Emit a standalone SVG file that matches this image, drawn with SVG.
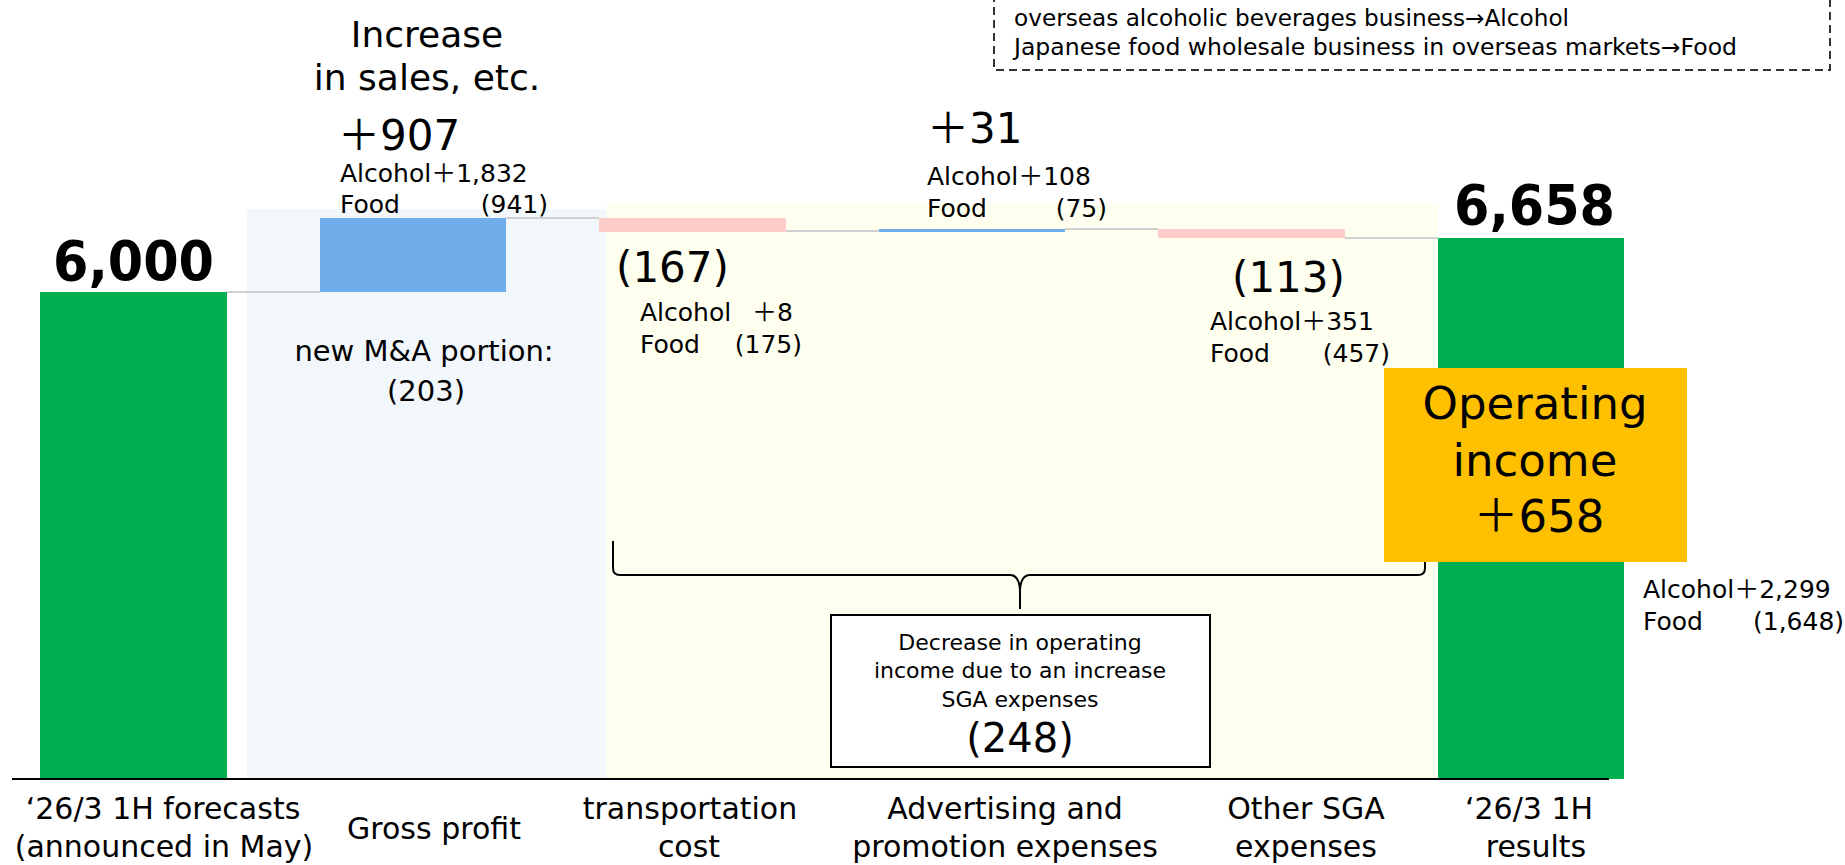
<svg xmlns="http://www.w3.org/2000/svg" width="1845" height="865" viewBox="0 0 1845 865">
<style>
text{font-family:"DejaVu Sans","Noto Sans CJK JP",sans-serif;fill:#000}
.big{font-size:42px}
.hd{font-size:36px}
.sm{font-size:25px}
.lb{font-size:30px}
.tot{font-size:56px;font-weight:bold}
.conn{stroke:#D0D0D0;stroke-width:2;fill:none}
.green{fill:#00B050}
.pink{fill:#FFCCCC}
.blue{fill:#6FAEEA}
</style>
<rect width="1845" height="865" fill="#ffffff"/>
<g id="backgrounds">
<rect x="247" y="209" width="359" height="570" fill="#F2F7FC"/>
<rect x="606" y="204" width="832" height="575" fill="#FFFFF0"/>
</g>
<g id="note">
<rect x="994" y="-10" width="836" height="80" fill="none" stroke="#333" stroke-width="2" stroke-dasharray="8 5"/>
<text x="1014" y="26" font-size="23" textLength="555" lengthAdjust="spacingAndGlyphs">overseas alcoholic beverages business→Alcohol</text>
<text x="1014" y="55" font-size="23" textLength="723" lengthAdjust="spacingAndGlyphs">Japanese food wholesale business in overseas markets→Food</text>
</g>
<g id="connectors">
<line class="conn" x1="227" y1="292" x2="320" y2="292"/>
<line class="conn" x1="506" y1="218" x2="599" y2="218"/>
<line class="conn" x1="786" y1="231" x2="879" y2="231"/>
<line class="conn" x1="1065" y1="229" x2="1158" y2="229"/>
<line class="conn" x1="1345" y1="238" x2="1438" y2="238"/>
<path d="M613 541 L613 568 Q613 575 620 575 L1010 575 Q1019 575 1020 590 L1020 609 M1020 590 Q1021 575 1030 575 L1418 575 Q1425 575 1425 568 L1425 541" fill="none" stroke="#000" stroke-width="2"/>
</g>
<g id="forecast">
<rect class="green" x="40" y="292" width="187" height="487"/>
<text class="tot" x="53" y="280" textLength="161" lengthAdjust="spacingAndGlyphs">6,000</text>
<text class="lb" x="163" y="819" text-anchor="middle">‘26/3 1H forecasts</text>
<text class="lb" x="164" y="857" text-anchor="middle">(announced in May)</text>
</g>
<g id="gross-profit">
<rect class="blue" x="320" y="218" width="186" height="74"/>
<text class="hd" x="427" y="47" text-anchor="middle">Increase</text>
<text class="hd" x="427" y="90" text-anchor="middle">in sales, etc.</text>
<text class="big" x="338" y="150">＋907</text>
<text class="sm" x="340" y="182">Alcohol＋1,832</text>
<text class="sm" x="340" y="213">Food</text>
<text class="sm" x="548" y="213" text-anchor="end">(941)</text>
<text x="424" y="361" font-size="29" text-anchor="middle">new M&amp;A portion:</text>
<text x="426" y="401" font-size="29" text-anchor="middle">(203)</text>
<text class="lb" x="434" y="839" text-anchor="middle">Gross profit</text>
</g>
<g id="transportation">
<rect class="pink" x="599" y="218" width="187" height="14"/>
<text class="big" x="616" y="282">(167)</text>
<text class="sm" x="640" y="321">Alcohol</text>
<text class="sm" x="793" y="321" text-anchor="end">＋8</text>
<text class="sm" x="640" y="353">Food</text>
<text class="sm" x="802" y="353" text-anchor="end">(175)</text>
<text class="lb" x="690" y="819" text-anchor="middle">transportation</text>
<text class="lb" x="689" y="857" text-anchor="middle">cost</text>
</g>
<g id="advertising">
<rect class="blue" x="879" y="229" width="186" height="3"/>
<text class="big" x="927" y="143">＋31</text>
<text class="sm" x="927" y="185">Alcohol＋108</text>
<text class="sm" x="927" y="217">Food</text>
<text class="sm" x="1107" y="217" text-anchor="end">(75)</text>
<text class="lb" x="1005" y="819" text-anchor="middle">Advertising and</text>
<text class="lb" x="1005" y="857" text-anchor="middle">promotion expenses</text>
</g>
<g id="other-sga">
<rect class="pink" x="1158" y="229" width="187" height="9"/>
<text class="big" x="1232" y="292">(113)</text>
<text class="sm" x="1210" y="330">Alcohol＋351</text>
<text class="sm" x="1210" y="362">Food</text>
<text class="sm" x="1390" y="362" text-anchor="end">(457)</text>
<text class="lb" x="1306" y="819" text-anchor="middle">Other SGA</text>
<text class="lb" x="1306" y="857" text-anchor="middle">expenses</text>
</g>
<g id="sga-summary">
<rect x="831" y="615" width="379" height="152" fill="#ffffff" stroke="#000" stroke-width="2"/>
<text x="1020" y="650" font-size="22" text-anchor="middle">Decrease in operating</text>
<text x="1020" y="678" font-size="22" text-anchor="middle">income due to an increase</text>
<text x="1020" y="707" font-size="22" text-anchor="middle">SGA expenses</text>
<text x="1020" y="752" font-size="40" text-anchor="middle">(248)</text>
</g>
<g id="results">
<rect class="green" x="1438" y="238" width="186" height="541"/>
<text class="tot" x="1454" y="224" textLength="161" lengthAdjust="spacingAndGlyphs">6,658</text>
<text class="sm" x="1643" y="598">Alcohol＋2,299</text>
<text class="sm" x="1643" y="630">Food</text>
<text class="sm" x="1753" y="630">(1,648)</text>
<text class="lb" x="1529" y="819" text-anchor="middle">‘26/3 1H</text>
<text class="lb" x="1536" y="857" text-anchor="middle">results</text>
</g>
<g id="operating-income">
<rect x="1384" y="368" width="303" height="194" fill="#FFC000"/>
<text x="1535" y="419" font-size="45" text-anchor="middle">Operating</text>
<text x="1535" y="476" font-size="45" text-anchor="middle">income</text>
<text x="1539" y="532" font-size="45" text-anchor="middle">＋658</text>
</g>
<g id="axis">
<line x1="12" y1="779" x2="1609" y2="779" stroke="#000" stroke-width="2"/>
</g>
</svg>
